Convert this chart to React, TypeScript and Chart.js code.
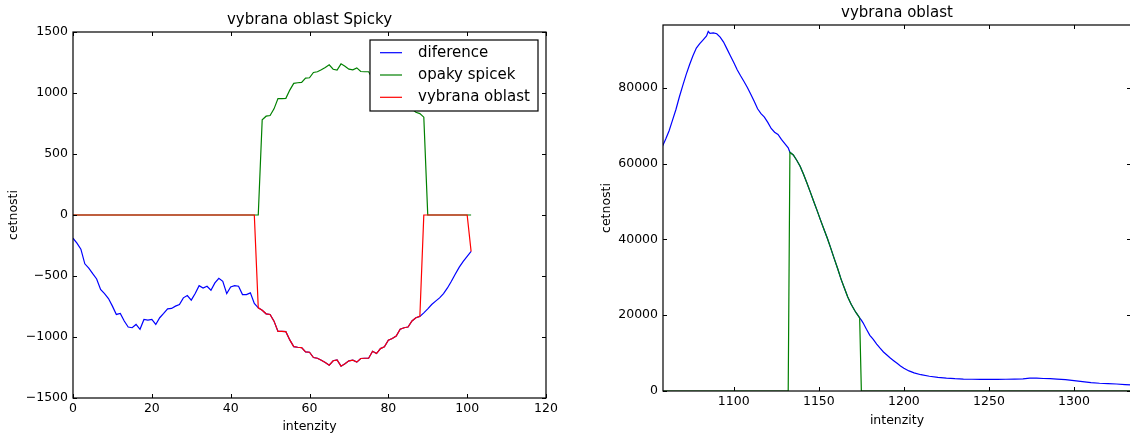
import React, { useEffect, useRef } from "react";
import { Chart, registerables } from "chart.js";

Chart.register(...registerables);

const FONT = "'DejaVu Sans', sans-serif";

// ---------- left chart: "vybrana oblast Spicky" ----------
const leftIntensities = [
  0, 1, 2, 3, 4, 5, 6, 7, 8, 9,
  10, 11, 12, 13, 14, 15, 16, 17, 18, 19,
  20, 21, 22, 23, 24, 25, 26, 27, 28, 29,
  30, 31, 32, 33, 34, 35, 36, 37, 38, 39,
  40, 41, 42, 43, 44, 45, 46, 47, 48, 49,
  50, 51, 52, 53, 54, 55, 56, 57, 58, 59,
  60, 61, 62, 63, 64, 65, 66, 67, 68, 69,
  70, 71, 72, 73, 74, 75, 76, 77, 78, 79,
  80, 81, 82, 83, 84, 85, 86, 87, 88, 89,
  90, 91, 92, 93, 94, 95, 96, 97, 98, 99,
  100, 101,
];

const diference = [
  -190, -231, -280, -400, -435, -481, -524, -611, -644, -685,
  -747, -815, -807, -869, -918, -924, -897, -937, -856, -861,
  -856, -897, -842, -807, -769, -766, -747, -734, -679, -660,
  -698, -644, -579, -598, -584, -617, -557, -519, -543, -644,
  -590, -579, -584, -652, -652, -638, -725, -761, -781, -810,
  -815, -870, -954, -954, -956, -1024, -1079, -1084, -1087, -1122,
  -1125, -1168, -1174, -1190, -1209, -1231, -1195, -1187, -1239, -1220,
  -1195, -1190, -1206, -1176, -1174, -1174, -1117, -1136, -1095, -1081,
  -1027, -1013, -992, -937, -924, -918, -869, -842, -831, -802,
  -769, -734, -706, -679, -644, -598, -543, -484, -427, -380,
  -340, -299,
];

const opakySpicek = [
  0, 0, 0, 0, 0, 0, 0, 0, 0, 0,
  0, 0, 0, 0, 0, 0, 0, 0, 0, 0,
  0, 0, 0, 0, 0, 0, 0, 0, 0, 0,
  0, 0, 0, 0, 0, 0, 0, 0, 0, 0,
  0, 0, 0, 0, 0, 0, 0, 0, 781, 810,
  815, 870, 954, 954, 956, 1024, 1079, 1084, 1087, 1122,
  1125, 1168, 1174, 1190, 1209, 1231, 1195, 1187, 1239, 1220,
  1195, 1190, 1206, 1176, 1174, 1174, 1117, 1136, 1095, 1081,
  1027, 1013, 992, 937, 924, 918, 869, 842, 831, 802,
  0, 0, 0, 0, 0, 0, 0, 0, 0, 0,
  0, 0,
];

const vybranaOblastLeft = [
  0, 0, 0, 0, 0, 0, 0, 0, 0, 0,
  0, 0, 0, 0, 0, 0, 0, 0, 0, 0,
  0, 0, 0, 0, 0, 0, 0, 0, 0, 0,
  0, 0, 0, 0, 0, 0, 0, 0, 0, 0,
  0, 0, 0, 0, 0, 0, 0, -761, -781, -810,
  -815, -870, -954, -954, -956, -1024, -1079, -1084, -1087, -1122,
  -1125, -1168, -1174, -1190, -1209, -1231, -1195, -1187, -1239, -1220,
  -1195, -1190, -1206, -1176, -1174, -1174, -1117, -1136, -1095, -1081,
  -1027, -1013, -992, -937, -924, -918, -869, -842, -831, 0,
  0, 0, 0, 0, 0, 0, 0, 0, 0, 0,
  0, -299,
];

const leftXTicks = [0, 20, 40, 60, 80, 100, 120];
const leftYTicks = [-1500, -1000, -500, 0, 500, 1000, 1500];

// ---------- right chart: "vybrana oblast" ----------
const rightIntensities = [
  1058, 1060, 1062, 1064, 1066, 1068, 1070, 1072, 1074, 1076,
  1078, 1080, 1082, 1084, 1085, 1086, 1088, 1090, 1092, 1094,
  1096, 1098, 1100, 1102, 1104, 1106, 1108, 1110, 1112, 1114,
  1116, 1118, 1120, 1122, 1124, 1126, 1128, 1130, 1132, 1133,
  1135, 1137, 1139, 1141, 1143, 1145, 1147, 1149, 1151, 1153,
  1155, 1157, 1159, 1161, 1163, 1165, 1167, 1169, 1171, 1172,
  1174, 1175, 1176, 1178, 1180, 1182, 1184, 1186, 1188, 1190,
  1192, 1194, 1196, 1198, 1200, 1203, 1206, 1210, 1215, 1220,
  1225, 1230, 1235, 1240, 1245, 1250, 1255, 1260, 1265, 1270,
  1274, 1278, 1282, 1286, 1290, 1295, 1300, 1305, 1310, 1315,
  1320, 1325, 1330, 1334,
];

const histogram = [
  64500, 66500, 68700, 71500, 74300, 77600, 80600, 83500, 86100, 88500,
  90500, 91700, 92700, 93700, 94900, 94400, 94500, 94300, 93400, 92100,
  90300, 88500, 86700, 84800, 83200, 81700, 80100, 78300, 76500, 74500,
  73200, 72300, 70900, 69300, 68300, 67700, 66400, 65300, 64200, 63000,
  62300, 60900, 59300, 57200, 54900, 52500, 50000, 47600, 45100, 42700,
  40300, 37700, 35000, 32400, 29600, 27200, 24800, 22900, 21300, 20600,
  19300, 18700, 18000, 16300, 14700, 13600, 12400, 11300, 10300, 9500,
  8700, 8000, 7300, 6600, 6000, 5300, 4800, 4300, 3900, 3600,
  3400, 3250, 3150, 3100, 3080, 3080, 3080, 3100, 3150, 3200,
  3400, 3400, 3300, 3250, 3150, 3000, 2750, 2450, 2200, 2050,
  1950, 1850, 1700, 1600,
];

const vybranaOblastRight = [
  0, 0, 0, 0, 0, 0, 0, 0, 0, 0,
  0, 0, 0, 0, 0, 0, 0, 0, 0, 0,
  0, 0, 0, 0, 0, 0, 0, 0, 0, 0,
  0, 0, 0, 0, 0, 0, 0, 0, 0, 63000,
  62300, 60900, 59300, 57200, 54900, 52500, 50000, 47600, 45100, 42700,
  40300, 37700, 35000, 32400, 29600, 27200, 24800, 22900, 21300, 20600,
  19300, 0, 0, 0, 0, 0, 0, 0, 0, 0,
  0, 0, 0, 0, 0, 0, 0, 0, 0, 0,
  0, 0, 0, 0, 0, 0, 0, 0, 0, 0,
  0, 0, 0, 0, 0, 0, 0, 0, 0, 0,
  0, 0, 0, 0,
];

const rightXTicks = [1100, 1150, 1200, 1250, 1300];
const rightYTicks = [0, 20000, 40000, 60000, 80000];

const toPoints = (xs: number[], ys: number[]) => xs.map((x, i) => ({ x, y: ys[i] }));
const fmt = (v: number) => String(v).replace("-", "\u2212");

const framePlugin = {
  id: "mplFrame",
  afterDraw(chart: any, _args: any, opts: any) {
    const { ctx, chartArea: a } = chart;
    const xs = chart.scales.x;
    const ys = chart.scales.y;
    ctx.save();
    ctx.strokeStyle = "#000";
    ctx.lineWidth = 1;
    ctx.beginPath();
    for (const t of xs.ticks) {
      const px = Math.round(xs.getPixelForValue(t.value)) + 0.5;
      ctx.moveTo(px, a.bottom);
      ctx.lineTo(px, a.bottom - 4);
      ctx.moveTo(px, a.top);
      ctx.lineTo(px, a.top + 4);
    }
    for (const t of ys.ticks) {
      const py = Math.round(ys.getPixelForValue(t.value)) + 0.5;
      ctx.moveTo(a.left, py);
      ctx.lineTo(a.left + 4, py);
      ctx.moveTo(a.right, py);
      ctx.lineTo(a.right - 4, py);
    }
    ctx.stroke();
    ctx.lineWidth = 1.2;
    ctx.strokeRect(a.left, a.top, a.right - a.left, a.bottom - a.top);

    if (opts && opts.legend) {
      const bw = 168;
      const bh = 71;
      const bx = a.right - 8 - bw;
      const by = a.top + 8;
      ctx.fillStyle = "#fff";
      ctx.fillRect(bx, by, bw, bh);
      ctx.lineWidth = 1.2;
      ctx.strokeStyle = "#000";
      ctx.strokeRect(bx, by, bw, bh);
      const items = chart.data.datasets;
      ctx.font = `15px ${FONT}`;
      ctx.textBaseline = "middle";
      ctx.textAlign = "left";
      items.forEach((ds: any, i: number) => {
        const cy = by + 12.7 + i * 22.3;
        ctx.strokeStyle = ds.borderColor;
        ctx.lineWidth = 1.2;
        ctx.beginPath();
        ctx.moveTo(bx + 10, cy);
        ctx.lineTo(bx + 32, cy);
        ctx.stroke();
        ctx.fillStyle = "#000";
        ctx.fillText(ds.label, bx + 48, cy);
      });
    }
    ctx.restore();
  },
};

const tickFont = { family: FONT, size: 12.5, weight: "normal" };
const titleFont = { family: FONT, size: 15, weight: "normal" };

function makeScales(opts: {
  xMin: number; xMax: number; yMin: number; yMax: number;
  xTicks: number[]; yTicks: number[];
  yWidth: number; xHeight: number; yTitlePad: number; xTitlePad: number;
}) {
  return {
    x: {
      type: "linear",
      min: opts.xMin,
      max: opts.xMax,
      grid: { display: false, drawTicks: false },
      border: { display: false },
      afterBuildTicks: (s: any) => { s.ticks = opts.xTicks.map((v) => ({ value: v })); },
      afterFit: (s: any) => { s.height = opts.xHeight; },
      ticks: {
        font: tickFont, color: "#000", padding: 3, maxRotation: 0, autoSkip: false,
        callback: (v: any) => fmt(v),
      },
      title: {
        display: true, text: "intenzity", color: "#000", font: tickFont,
        padding: { top: 0, bottom: opts.xTitlePad },
      },
    },
    y: {
      type: "linear",
      min: opts.yMin,
      max: opts.yMax,
      grid: { display: false, drawTicks: false },
      border: { display: false },
      afterBuildTicks: (s: any) => { s.ticks = opts.yTicks.map((v) => ({ value: v })); },
      afterFit: (s: any) => { s.width = opts.yWidth; },
      ticks: {
        font: tickFont, color: "#000", padding: 5, autoSkip: false,
        callback: (v: any) => fmt(v),
      },
      title: {
        display: true, text: "cetnosti", color: "#000", font: tickFont,
        padding: { top: opts.yTitlePad, bottom: 0 },
      },
    },
  };
}

const lineDefaults = { borderWidth: 1.2, pointRadius: 0, fill: false, tension: 0 };

export default function App() {
  const leftRef = useRef<HTMLCanvasElement>(null);
  const rightRef = useRef<HTMLCanvasElement>(null);

  useEffect(() => {
    const left = new Chart(leftRef.current!, {
      type: "line",
      data: {
        datasets: [
          { ...lineDefaults, label: "diference", data: toPoints(leftIntensities, diference), borderColor: "#0000ff", order: 3 },
          { ...lineDefaults, label: "opaky spicek", data: toPoints(leftIntensities, opakySpicek), borderColor: "#008000", order: 2 },
          { ...lineDefaults, label: "vybrana oblast", data: toPoints(leftIntensities, vybranaOblastLeft), borderColor: "#ff0000", order: 1 },
        ],
      },
      options: {
        responsive: false,
        animation: false,
        layout: { padding: { left: 0, right: 16, top: 0, bottom: 0 } },
        scales: makeScales({
          xMin: 0, xMax: 120, yMin: -1500, yMax: 1500,
          xTicks: leftXTicks, yTicks: leftYTicks,
          yWidth: 73, xHeight: 42, yTitlePad: 6.5, xTitlePad: 5.5,
        }) as any,
        plugins: {
          legend: { display: false },
          tooltip: { enabled: false },
          title: {
            display: true, text: "vybrana oblast Spicky", color: "#000", font: titleFont,
            fullSize: false, padding: { top: 11, bottom: 3 },
          },
          mplFrame: { legend: true },
        } as any,
      },
      plugins: [framePlugin],
    } as any);

    const right = new Chart(rightRef.current!, {
      type: "line",
      data: {
        datasets: [
          { ...lineDefaults, label: "histogram", data: toPoints(rightIntensities, histogram), borderColor: "#0000ff", order: 2 },
          { ...lineDefaults, label: "vybrana oblast", data: toPoints(rightIntensities, vybranaOblastRight), borderColor: "#008000", order: 1 },
        ],
      },
      options: {
        responsive: false,
        animation: false,
        layout: { padding: { left: 0, right: 14, top: 0, bottom: 0 } },
        scales: makeScales({
          xMin: 1058.4, xMax: 1333.5, yMin: 0, yMax: 96600,
          xTicks: rightXTicks, yTicks: rightYTicks,
          yWidth: 103, xHeight: 49, yTitlePad: 39.2, xTitlePad: 11.5,
        }) as any,
        plugins: {
          legend: { display: false },
          tooltip: { enabled: false },
          title: {
            display: true, text: "vybrana oblast", color: "#000", font: titleFont,
            fullSize: false, padding: { top: 4, bottom: 3 },
          },
          mplFrame: { legend: false },
        } as any,
      },
      plugins: [framePlugin],
    } as any);

    return () => {
      left.destroy();
      right.destroy();
    };
  }, []);

  return (
    <div
      style={{
        position: "fixed", left: 0, top: 0, width: 1130, height: 434,
        overflow: "hidden", background: "#fff",
      }}
    >
      <canvas ref={leftRef} width={562} height={440} style={{ position: "absolute", left: 0, top: 0 }} />
      <canvas ref={rightRef} width={585} height={440} style={{ position: "absolute", left: 560, top: 0 }} />
    </div>
  );
}
